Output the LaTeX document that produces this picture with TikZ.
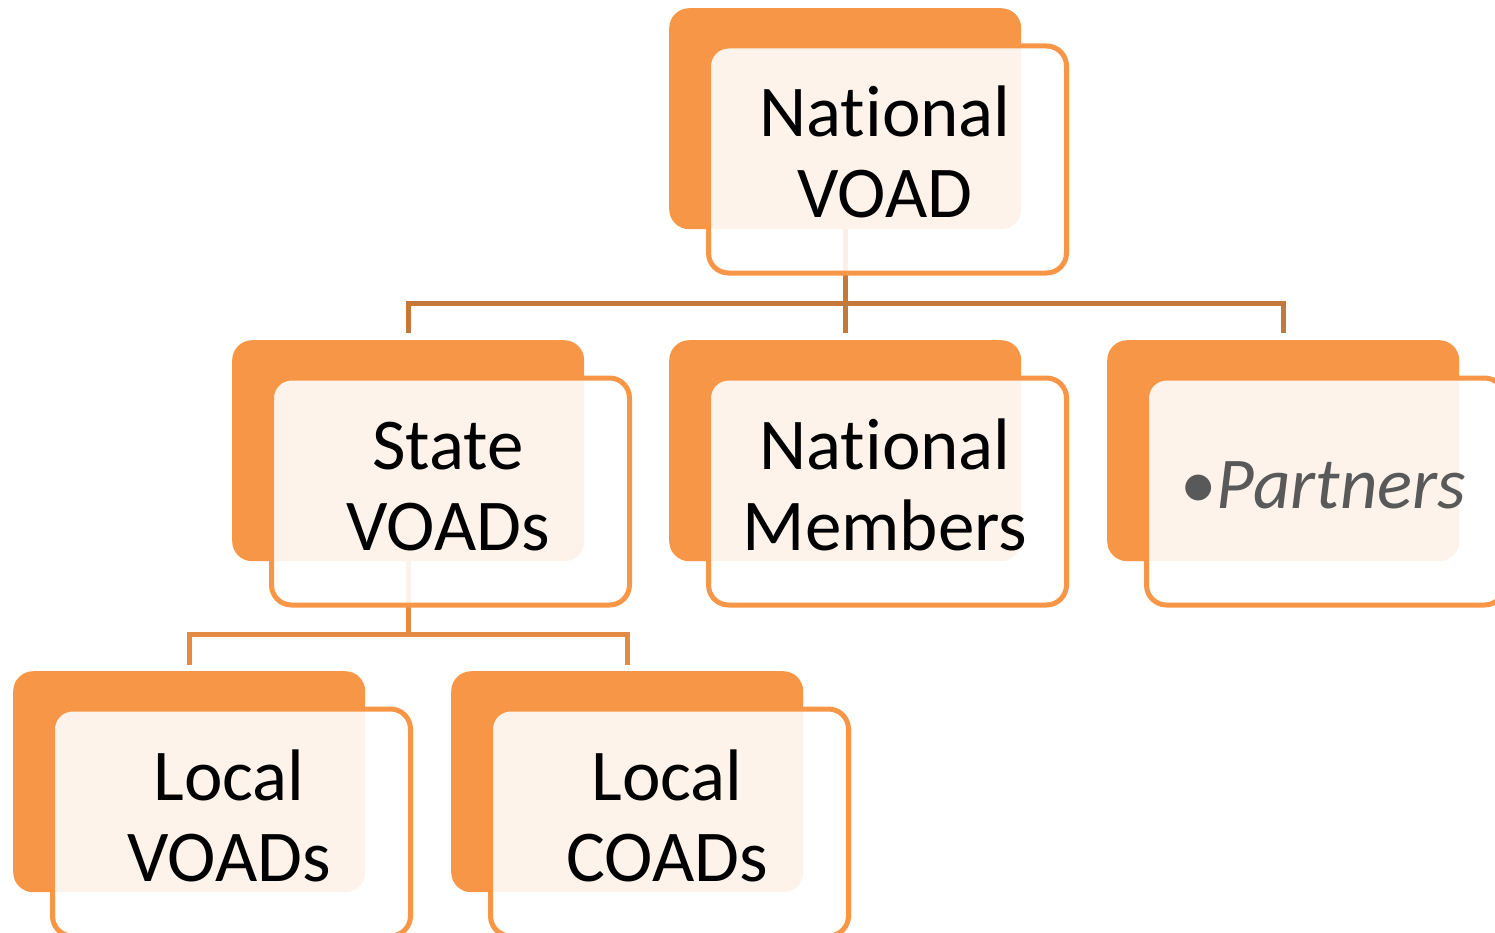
\documentclass[tikz,border=0pt]{standalone}
\usepackage{fontspec}
\setmainfont{Carlito}[Ligatures=NoCommon]
\definecolor{accent}{HTML}{F79646}
\definecolor{lineA}{HTML}{C4783A}
\definecolor{lineB}{HTML}{E38B45}
\definecolor{grayt}{HTML}{595959}
\begin{document}
\begin{tikzpicture}[x=1pt,y=-1pt,
  backbox/.style={fill=accent, draw=none, rounded corners=20pt, minimum width=352pt, minimum height=221pt, inner sep=0pt, anchor=north west},
  frontbox/.style={fill=white, fill opacity=0.89, draw=accent, line width=5pt, rounded corners=20pt, minimum width=358pt, minimum height=227pt, inner sep=0pt, anchor=north west},
  label/.style={anchor=base, align=center, inner sep=0pt, font=\fontsize{73}{81}\selectfont},
  conA/.style={draw=lineA, line width=5pt},
  conB/.style={draw=lineB, line width=5pt}]
\useasboundingbox (0,0) rectangle (1495,933);
% back boxes
\node[backbox] (nv) at (669,8) {};
\node[backbox] (sv) at (232,340) {};
\node[backbox] (nm) at (669,340) {};
\node[backbox] (pa) at (1107,340) {};
\node[backbox] (lv) at (13,671) {};
\node[backbox] (lc) at (451,671) {};
% connectors
\draw[conA] (nv.south) -- ++(0,74) -| ([yshift=7pt]sv.north);
\draw[conA] (nv.south) -- ++(0,74) -| ([yshift=7pt]nm.north);
\draw[conA] (nv.south) -- ++(0,74) -| ([yshift=7pt]pa.north);
\draw[conB] (sv.south) -- ++(0,73) -| ([yshift=6pt]lv.north);
\draw[conB] (sv.south) -- ++(0,73) -| ([yshift=6pt]lc.north);
% front boxes
\node[frontbox] (nvf) at (706,43.5) {};
\node[frontbox] (svf) at (269,375.5) {};
\node[frontbox] (nmf) at (706,375.5) {};
\node[frontbox] (paf) at (1144,375.5) {};
\node[frontbox] (lvf) at (50,706.5) {};
\node[frontbox] (lcf) at (488,706.5) {};
% texts (base anchor = baseline of the last line)
\node[label] (nvt) at (885,218) {National\\VOAD};
\node[label] (svt) at (448,550) {State\\VOADs};
\node[label] (nmt) at (885,550) {National\\Members};
\node[label, text=grayt] (pat) at (1323,508) {•\textit{Partners}};
\node[label] (lvt) at (229,881) {Local\\VOADs};
\node[label] (lct) at (667,881) {Local\\COADs};
\end{tikzpicture}
\end{document}
